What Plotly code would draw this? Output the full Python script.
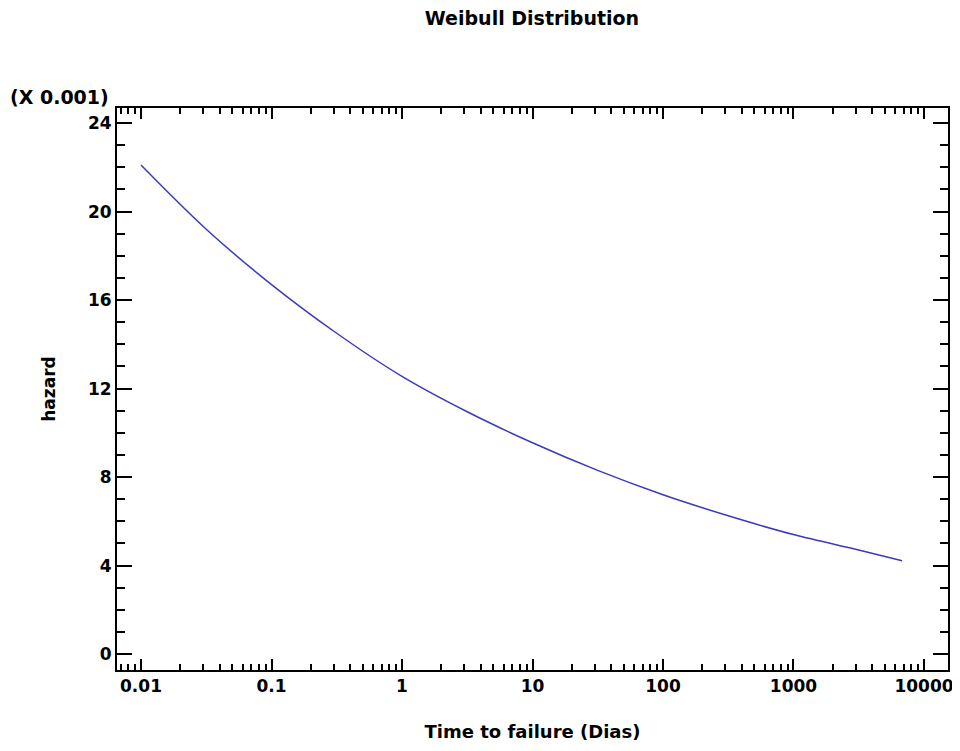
import plotly.graph_objects as go

# Data (hazard in units of 0.001)
time_days = [0.01, 0.0316, 0.1, 0.316, 1, 3.16, 10, 31.6, 100, 316, 1000, 3160, 6800]
hazard_milli = [22.1, 19.2, 16.7, 14.5, 12.55, 10.95, 9.55, 8.3, 7.2, 6.25, 5.4, 4.7, 4.22]

x_tick_vals = [0.01, 0.1, 1, 10, 100, 1000, 10000]
x_tick_text = ["0.01", "0.1", "1", "10", "100", "1000", "10000"]
x_minor_vals = [m * 10 ** e for e in range(-3, 5) for m in range(2, 10)]
y_tick_vals = [0, 4, 8, 12, 16, 20, 24]

FONT = "DejaVu Sans, Verdana, sans-serif"

# page body adds an 8px offset; figure sized to compensate
W, H = 952, 743
L, T = 109, 100
R = W - (948 - 8)
B = H - (670 - 8)

fig = go.Figure()
fig.add_trace(go.Scatter(
    x=time_days, y=hazard_milli, mode="lines",
    line=dict(color="#3a3abf", width=1.5, shape="spline"),
    showlegend=False, hoverinfo="skip",
))

fig.update_layout(
    width=W, height=H,
    margin=dict(l=L, r=R, t=T, b=B, autoexpand=False),
    paper_bgcolor="white", plot_bgcolor="white",
    font=dict(family=FONT, color="black"),
    title=dict(text="Weibull Distribution", x=(532 - 8) / W, xanchor="center",
               y=1 - 10 / H, yanchor="middle",
               font=dict(size=19, family=FONT, color="black", weight="bold")),
    showlegend=False,
)

fig.update_xaxes(
    type="log", range=[-2.184, 4.184],
    tickmode="array", tickvals=x_tick_vals, ticktext=x_tick_text,
    ticks="inside", ticklen=11, tickwidth=2, tickcolor="black",
    minor=dict(tickmode="array", tickvals=x_minor_vals, ticks="inside", ticklen=6,
               tickwidth=2, tickcolor="black", showgrid=False),
    showline=True, linewidth=2, linecolor="black", mirror="allticks",
    showgrid=False, zeroline=False,
    tickfont=dict(size=17, family=FONT, color="black", weight="bold"),
    title=dict(text="Time to failure (Dias)",
               font=dict(size=18, family=FONT, color="black", weight="bold"),
               standoff=30),
)
fig.update_yaxes(
    range=[-0.72, 24.68],
    tickmode="array", tickvals=y_tick_vals, ticktext=[str(v) for v in y_tick_vals],
    ticks="inside", ticklen=15, tickwidth=2, tickcolor="black",
    minor=dict(dtick=1, ticks="inside", ticklen=8, tickwidth=2, tickcolor="black", showgrid=False),
    showline=True, linewidth=2, linecolor="black", mirror="allticks",
    showgrid=False, zeroline=False,
    tickfont=dict(size=17, family=FONT, color="black", weight="bold"),
    title=dict(text="hazard", font=dict(size=17, family=FONT, color="black", weight="bold"),
               standoff=28),
)

fig.add_annotation(
    text="(X 0.001)", xref="paper", yref="paper",
    x=(111 - 117) / 831, y=(670 - 97) / 562, xanchor="right", yanchor="middle",
    showarrow=False, font=dict(size=19, family=FONT, color="black", weight="bold"),
)

fig.write_html("out.html")
